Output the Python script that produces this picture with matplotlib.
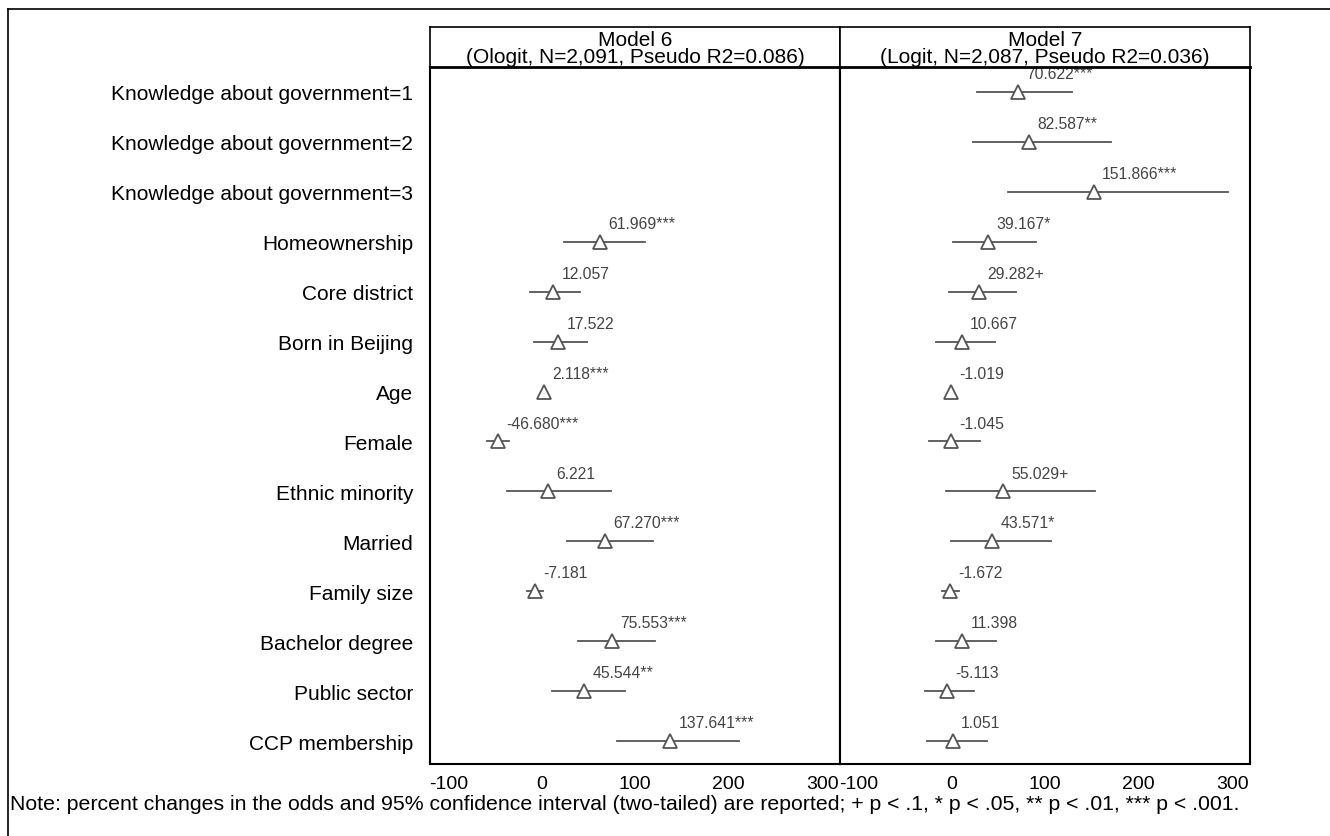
import numpy as np
import matplotlib
matplotlib.use("Agg")
from matplotlib import pyplot as plt
from matplotlib.lines import Line2D

plt.rcParams['font.family'] = ['Liberation Sans', 'DejaVu Sans']
plt.rcParams['axes.unicode_minus'] = False

# variable names, top to bottom
variables = [
    "Knowledge about government=1",
    "Knowledge about government=2",
    "Knowledge about government=3",
    "Homeownership",
    "Core district",
    "Born in Beijing",
    "Age",
    "Female",
    "Ethnic minority",
    "Married",
    "Family size",
    "Bachelor degree",
    "Public sector",
    "CCP membership",
]

# Model 6 (no knowledge terms) -> None for the first three rows
m6_est = [None, None, None, 61.969, 12.057, 17.522, 2.118, -46.680, 6.221, 67.270, -7.181, 75.553, 45.544, 137.641]
m6_lo = [None, None, None, 23.8, -12.5, -8.2, 1.4, -58.8, -36.8, 27.4, -15.8, 38.8, 11.0, 80.9]
m6_hi = [None, None, None, 110.5, 41.0, 48.8, 2.8, -34.6, 73.8, 118.7, 1.2, 121.5, 89.4, 211.3]
m6_sig = ["", "", "", "***", "", "", "***", "***", "", "***", "", "***", "**", "***"]

m7_est = [70.622, 82.587, 151.866, 39.167, 29.282, 10.667, -1.019, -1.045, 55.029, 43.571, -1.672, 11.398, -5.113, 1.051]
m7_lo = [26.7, 23.0, 60.4, 1.4, -3.0, -16.8, -1.6, -24.0, -6.1, -0.7, -10.7, -16.8, -28.2, -26.7]
m7_hi = [128.7, 170.8, 295.2, 90.0, 68.6, 46.0, -0.4, 30.0, 153.7, 106.0, 7.8, 47.3, 23.8, 37.4]
m7_sig = ["***", "**", "***", "*", "+", "", "", "", "+", "*", "", "", "", ""]

headers = ["Model 6\n(Ologit, N=2,091, Pseudo R2=0.086)",
           "Model 7\n(Logit, N=2,087, Pseudo R2=0.036)"]
xticks = [-100, 0, 100, 200, 300]
note = ("Note: percent changes in the odds and 95% confidence interval (two-tailed) "
        "are reported; + p < .1, * p < .05, ** p < .01, *** p < .001.")

W, H = 1330, 837
fig = plt.figure(figsize=(W / 100, H / 100), dpi=100)

line_col = "#555555"
text_col = "#444444"


def px_box(x0, y0, x1, y1):
    # pixel box (top-left origin) -> figure fraction rect
    return [x0 / W, 1 - y1 / H, (x1 - x0) / W, (y1 - y0) / H]


def draw_panel(ax, est, lo, hi, sig, show_labels):
    y = np.arange(1, len(variables) + 1)
    for i in range(len(variables)):
        if est[i] is None:
            continue
        ax.plot([lo[i], hi[i]], [y[i], y[i]], color=line_col, lw=1.3, zorder=2)
        ax.plot(est[i], y[i], marker="^", ms=10, mfc="white", mec=line_col, mew=1.3, zorder=3)
        ax.annotate("%.3f%s" % (est[i], sig[i]), (est[i], y[i]), xytext=(6, 10),
                    textcoords="offset points", ha="left", va="baseline",
                    fontsize=11.3, color=text_col, annotation_clip=False)
    ax.set_xlim(-119.5, 319)
    ax.set_ylim(len(variables) + 0.46, 0.5)
    ax.set_xticks(xticks)
    ax.set_yticks(y)
    if show_labels:
        ax.set_yticklabels(variables, fontsize=15)
    else:
        ax.set_yticklabels([])
    ax.tick_params(axis="both", length=0)
    ax.tick_params(axis="y", pad=12)
    ax.tick_params(axis="x", pad=8, labelsize=14)
    for s in ax.spines.values():
        s.set_linewidth(1.5)


ax1 = fig.add_axes(px_box(430, 68, 840, 765))
ax2 = fig.add_axes(px_box(840, 68, 1250, 765))
draw_panel(ax1, m6_est, m6_lo, m6_hi, m6_sig, True)
draw_panel(ax2, m7_est, m7_lo, m7_hi, m7_sig, False)

# header boxes above each panel (white face hides anything under them)
for x0, txt in zip([430, 840], headers):
    hx = fig.add_axes(px_box(x0, 28, x0 + 410, 68))
    hx.set_xticks([])
    hx.set_yticks([])
    for s in hx.spines.values():
        s.set_linewidth(1.2)
    hx.spines["bottom"].set_linewidth(2)
    hx.text(0.5, 0.47, txt, ha="center", va="center", fontsize=15,
            linespacing=0.88, transform=hx.transAxes)

fig.text(10 / W, 1 - 805 / H, note, ha="left", va="center", fontsize=15.3)

# outer frame (left and top edges)
fig.add_artist(Line2D([8 / W, 8 / W], [0, 1 - 10 / H], color="black", lw=1.2))
fig.add_artist(Line2D([8 / W, 1], [1 - 10 / H, 1 - 10 / H], color="black", lw=1.2))

fig.savefig("out.png", dpi=100)
